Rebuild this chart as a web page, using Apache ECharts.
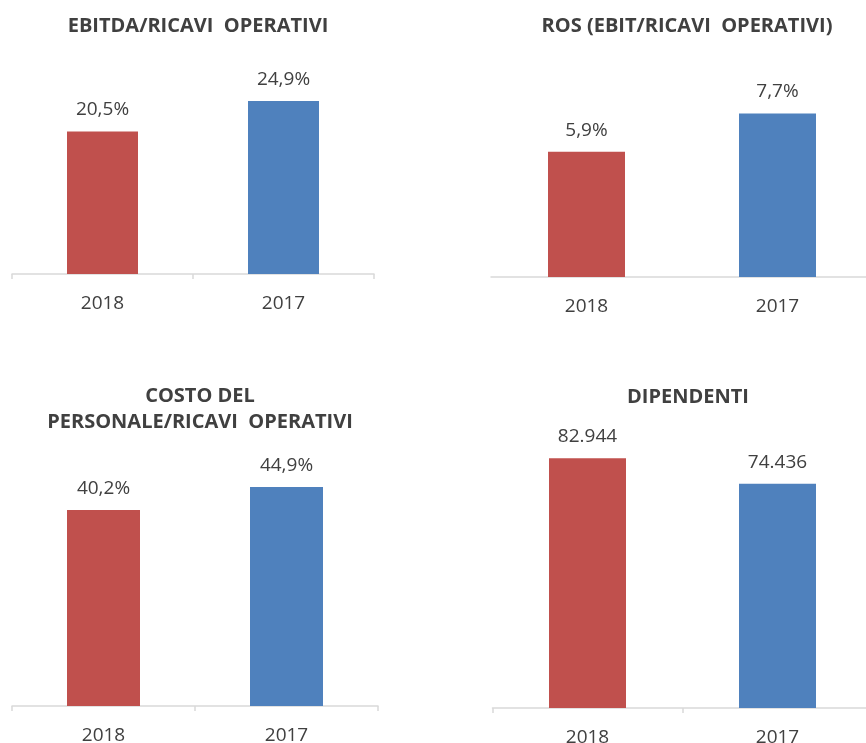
<!DOCTYPE html>
<html>
<head>
<meta charset="utf-8">
<script src="https://cdn.jsdelivr.net/npm/echarts@6/dist/echarts.min.js"></script>
<style>
  html, body { margin: 0; padding: 0; background: #fff; }
  #mychart { width: 866px; height: 743px; }
</style>
</head>
<body>
<div id="mychart"></div>
<script>
const categories = ['2018', '2017']
const ebitdaRicavi = [20.5, 24.9]
const rosValues = [5.9, 7.7]
const costoPersonale = [40.2, 44.9]
const dipendenti = [82944, 74436]
const titles = ['EBITDA/RICAVI  OPERATIVI', 'ROS (EBIT/RICAVI  OPERATIVI)', 'COSTO DEL\nPERSONALE/RICAVI  OPERATIVI', 'DIPENDENTI']

const barColors = ['#C0504D', '#4F81BD']
const textColor = '#404040'
const font = '"Open Sans", "Noto Sans", sans-serif'

const pct = v => v.toFixed(1).replace('.', ',') + '%'
const thousands = v => String(v).replace(/\B(?=(\d{3})+(?!\d))/g, '.')

// one panel = grid + axes + series
const panels = [
  { data: ebitdaRicavi, fmt: pct, grid: { left: 12, top: 65.5, width: 362, height: 208.5 }, max: 30, barWidth: 71, ticks: true, title: { x: 193, y: 8 } },
  { data: rosValues, fmt: pct, grid: { left: 491, top: 64.7, width: 382, height: 212.3 }, max: 10, barWidth: 77, ticks: false, title: { x: 682, y: 8 } },
  { data: costoPersonale, fmt: pct, grid: { left: 12, top: 462.1, width: 366, height: 243.9 }, max: 50, barWidth: 73, ticks: true, title: { x: 195, y: 378 } },
  { data: dipendenti, fmt: thousands, grid: { left: 492.5, top: 436.9, width: 380, height: 271.1 }, max: 90000, barWidth: 77, ticks: true, title: { x: 683, y: 379 } }
]

const option = {
  backgroundColor: '#ffffff',
  animation: false,
  title: panels.map((p, i) => ({
    text: titles[i],
    left: p.title.x,
    top: p.title.y,
    textAlign: 'center',
    textStyle: { color: textColor, fontSize: 20, fontWeight: 'bold', fontFamily: font, lineHeight: 26 }
  })),
  grid: panels.map(p => Object.assign({ outerBoundsMode: 'none', containLabel: false }, p.grid)),
  xAxis: panels.map((p, i) => ({
    type: 'category',
    gridIndex: i,
    data: categories,
    axisLine: { show: true, lineStyle: { color: '#D9D9D9', width: 1.5 } },
    axisTick: { show: p.ticks, length: 5, lineStyle: { color: '#D9D9D9', width: 1.5 } },
    axisLabel: { color: textColor, fontSize: 19, fontFamily: font, margin: 20 }
  })),
  yAxis: panels.map((p, i) => ({
    type: 'value',
    gridIndex: i,
    min: 0,
    max: p.max,
    show: false,
    splitLine: { show: false }
  })),
  series: panels.map((p, i) => ({
    type: 'bar',
    xAxisIndex: i,
    yAxisIndex: i,
    barWidth: p.barWidth,
    data: p.data.map((v, j) => ({ value: v, itemStyle: { color: barColors[j] } })),
    label: {
      show: true,
      position: 'top',
      distance: 12,
      color: textColor,
      fontSize: 19,
      fontFamily: font,
      formatter: params => p.fmt(params.value)
    }
  }))
}

const myChart = echarts.init(document.getElementById('mychart'))
myChart.setOption(option)
</script>
</body>
</html>
